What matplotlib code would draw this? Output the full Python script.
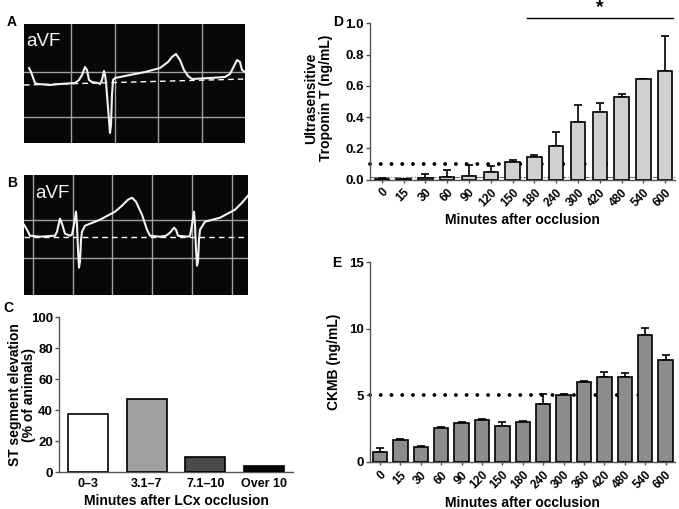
import matplotlib
matplotlib.use("Agg")
import matplotlib.pyplot as plt
import numpy as np

plt.rcParams['font.family'] = ['Liberation Sans', 'DejaVu Sans']
plt.rcParams['font.weight'] = 'bold'

# ---------------- data ----------------
# ECG traces (time in arbitrary units, voltage relative to isoelectric line)
ecg_a_time = [5, 7, 11, 14, 26, 36, 51, 55, 58, 61, 63, 65, 68, 74, 76, 78, 80, 81, 82, 83, 85, 86, 87, 88, 89,
              91, 106, 121, 136, 144, 148, 152, 156, 160, 164, 168, 186, 201, 206, 210, 213, 216, 218, 221]
ecg_a_volt = [17, 13, 2, 1, 0, 1, 2, 5, 10, 18, 15, 5, 3, 2, 1, 5, 14, 10, 3, -10, -35, -48, -40, -10, 5,
              7, 10, 13, 17, 23, 28, 31, 25, 15, 9, 6, 7, 8, 11, 19, 25, 23, 15, 13]
ecg_a_base_t = [0, 221]
ecg_a_base_v = [0, 6]

ecg_b_time = [0, 3, 6, 16, 31, 33, 36, 38, 41, 46, 48, 50, 52, 53, 54, 55, 56, 57, 58, 61, 76, 91, 98, 104, 108,
              112, 118, 123, 126, 136, 142, 146, 150, 152, 154, 164, 166, 168, 170, 171, 172, 173, 174, 175,
              176, 181, 196, 211, 218, 224]
ecg_b_volt = [12, 7, 1, 0, 1, 5, 18, 13, 3, 1, 2, 12, 25, 12, -13, -31, -25, -3, 5, 11, 17, 25, 31, 37, 39,
              35, 22, 7, 1, 0, 1, 4, 9, 7, 1, 0, 1, 12, 25, 12, -13, -29, -25, -3, 7, 15, 19, 27, 34, 41]
ecg_b_base_t = [0, 224]
ecg_b_base_v = [0, 0]

# Panel C
c_categories = ['0\u20133', '3.1\u20137', '7.1\u201310', 'Over 10']
c_values = [37.5, 47.5, 10, 4.3]

# Panel D
d_times = ['0', '15', '30', '60', '90', '120', '150', '180', '240', '300', '420', '480', '540', '600']
d_values = [0.004, 0.004, 0.011, 0.013, 0.024, 0.045, 0.113, 0.145, 0.217, 0.369, 0.429, 0.525, 0.646, 0.693]
d_errors = [0.003, 0.002, 0.025, 0.051, 0.070, 0.043, 0.015, 0.015, 0.090, 0.106, 0.061, 0.025, 0.0, 0.226]
d_threshold = 0.1
d_lower_limit = 0.014

# Panel E
e_times = ['0', '15', '30', '60', '90', '120', '150', '180', '240', '300', '360', '420', '480', '540', '600']
e_values = [0.77, 1.65, 1.15, 2.55, 2.93, 3.15, 2.70, 2.98, 4.35, 5.00, 6.02, 6.40, 6.40, 9.53, 7.63]
e_errors = [0.26, 0.05, 0.07, 0.05, 0.05, 0.08, 0.28, 0.12, 0.73, 0.12, 0.05, 0.35, 0.28, 0.52, 0.37]
e_threshold = 5

# ---------------- figure ----------------
W, H = 679, 509
fig = plt.figure(figsize=(W / 100, H / 100), dpi=100)


def px_axes(x0, y0, x1, y1):
    return fig.add_axes([x0 / W, 1 - y1 / H, (x1 - x0) / W, (y1 - y0) / H])


def ecg_panel(ax, t, v, bt, bv, xlim, ylim, vgrid, hgrid, label_pos):
    ax.set_facecolor('#080808')
    ax.set_xlim(*xlim)
    ax.set_ylim(*ylim)
    for g in vgrid:
        ax.axvline(g, color='#a0a0a0', lw=1.0, zorder=1)
    for g in hgrid:
        ax.axhline(g, color='#a0a0a0', lw=1.0, zorder=1)
    ax.plot(bt, bv, color='white', lw=1.0, dashes=(4, 3), zorder=2)
    ax.plot(t, v, color='#f2f2f2', lw=1.5, zorder=3, solid_joinstyle='round')
    ax.text(label_pos[0], label_pos[1], 'aVF', color='#f4f4f4', fontsize=13.5,
            fontweight='normal', va='center', ha='left', zorder=4)
    ax.set_xticks([])
    ax.set_yticks([])
    for s in ax.spines.values():
        s.set_visible(False)


axA = px_axes(24, 24, 245, 143)
ecg_panel(axA, ecg_a_time, ecg_a_volt, ecg_a_base_t, ecg_a_base_v,
          (0, 221), (-58, 61), [47, 90.5, 134, 177.5], [13.3, -31.7], (2, 43))

axB = px_axes(24, 175, 248, 295)
ecg_panel(axB, ecg_b_time, ecg_b_volt, ecg_b_base_t, ecg_b_base_v,
          (0, 224), (-58.3, 61.7), [9, 48.7, 88.3, 128.3, 168.3, 208.3], [17, -21.6], (11, 43))

spine_col = '#555555'


def style_axes(ax):
    ax.spines['top'].set_visible(False)
    ax.spines['right'].set_visible(False)
    ax.spines['left'].set_color(spine_col)
    ax.spines['bottom'].set_color(spine_col)
    ax.spines['left'].set_linewidth(1.0)
    ax.spines['bottom'].set_linewidth(1.0)
    ax.tick_params(axis='both', color=spine_col, width=1.0, length=3, pad=1.5)


# Panel C
axC = px_axes(59.3, 317.3, 293.3, 472.3)
xc = np.arange(len(c_values))
axC.bar(xc, c_values, width=0.68, color=['white', '#a0a0a0', '#4a4a4a', '#050505'],
        edgecolor='black', linewidth=1.2, zorder=3)
axC.set_xlim(-0.49, 3.5)
axC.set_ylim(0, 100)
axC.set_yticks([0, 20, 40, 60, 80, 100])
axC.set_xticks(xc)
axC.set_xticklabels(c_categories, fontsize=9, fontweight='bold')
style_axes(axC)
axC.tick_params(axis='y', labelsize=9.5)
axC.tick_params(axis='x', length=0, pad=4)
axC.set_xlabel('Minutes after LCx occlusion', fontsize=10, fontweight='bold', labelpad=3)
axC.set_ylabel('ST segment elevation\n(% of animals)', fontsize=10, fontweight='bold',
               linespacing=1.0)
axC.yaxis.set_label_coords((36 - 59.3) / 234, 0.5)
for lab in axC.get_yticklabels():
    lab.set_fontweight('bold')

# Panel D
axD = px_axes(370, 23.3, 675, 179.5)
xd = np.arange(len(d_values))
axD.axhline(d_threshold, color='black', lw=2.8, linestyle=(0, (0.01, 2.75)),
            dash_capstyle='round', zorder=1, clip_on=False)
axD.axhline(d_lower_limit, color='#777777', lw=0.8, linestyle='-.', zorder=1)
axD.bar(xd, d_values, width=0.66, color='#d0d0d0', edgecolor='black', linewidth=1.2, zorder=3)
axD.errorbar(xd, d_values, yerr=[np.zeros(len(d_errors)), d_errors], fmt='none',
             ecolor='black', elinewidth=1.2, capsize=3, capthick=1.2, zorder=2)
axD.set_xlim(-0.54, 13.45)
axD.set_ylim(0, 1.0)
axD.set_yticks([0.0, 0.2, 0.4, 0.6, 0.8, 1.0])
axD.set_yticklabels(['0.0', '0.2', '0.4', '0.6', '0.8', '1.0'], fontsize=9.5, fontweight='bold')
axD.set_xticks(xd)
axD.set_xticklabels(d_times, rotation=45, ha='right', rotation_mode='anchor',
                    fontsize=8.5, fontweight='bold')
style_axes(axD)
axD.tick_params(axis='x', length=2, pad=3)
axD.set_xlabel('Minutes after occlusion', fontsize=10, fontweight='bold', labelpad=3)
axD.set_ylabel('Ultrasensitive\nTroponin T (ng/mL)', fontsize=10, fontweight='bold',
               linespacing=1.05)
axD.yaxis.set_label_coords((333 - 370) / 305, 0.52)
# significance bar over 180-600 min
sig_start = d_times.index('180') - 0.33
sig_end = len(d_times) - 1 + 0.36
axD.plot([sig_start, sig_end], [1.032, 1.032], color='black', lw=1.0, clip_on=False)
axD.text((sig_start + sig_end) / 2, 1.10, '*', ha='center', va='center', fontsize=14,
         fontweight='bold', clip_on=False)

# Panel E
axE = px_axes(370, 262, 675, 462)
xe = np.arange(len(e_values))
axE.axhline(e_threshold, color='black', lw=2.8, linestyle=(0, (0.01, 2.75)),
            dash_capstyle='round', zorder=1, clip_on=False)
axE.bar(xe, e_values, width=0.70, color='#8c8c8c', edgecolor='black', linewidth=1.2, zorder=3)
axE.errorbar(xe, e_values, yerr=[np.zeros(len(e_errors)), e_errors], fmt='none',
             ecolor='black', elinewidth=1.2, capsize=3, capthick=1.2, zorder=2)
axE.set_xlim(-0.49, 14.46)
axE.set_ylim(0, 15)
axE.set_yticks([0, 5, 10, 15])
axE.set_yticklabels(['0', '5', '10', '15'], fontsize=9.5, fontweight='bold')
axE.set_xticks(xe)
axE.set_xticklabels(e_times, rotation=45, ha='right', rotation_mode='anchor',
                    fontsize=8.5, fontweight='bold')
style_axes(axE)
axE.tick_params(axis='x', length=2, pad=3)
axE.set_xlabel('Minutes after occlusion', fontsize=10, fontweight='bold', labelpad=3)
axE.set_ylabel('CKMB (ng/mL)', fontsize=10, fontweight='bold')
axE.yaxis.set_label_coords((341 - 370) / 305, 0.5)

# Panel letters
for letter, (x, y) in {'A': (12, 22), 'B': (12, 183), 'C': (8, 308), 'D': (338, 22), 'E': (337, 263)}.items():
    fig.text(x / W, 1 - y / H, letter, fontsize=10, fontweight='bold', ha='center', va='center')

fig.savefig('out.png', dpi=100)
